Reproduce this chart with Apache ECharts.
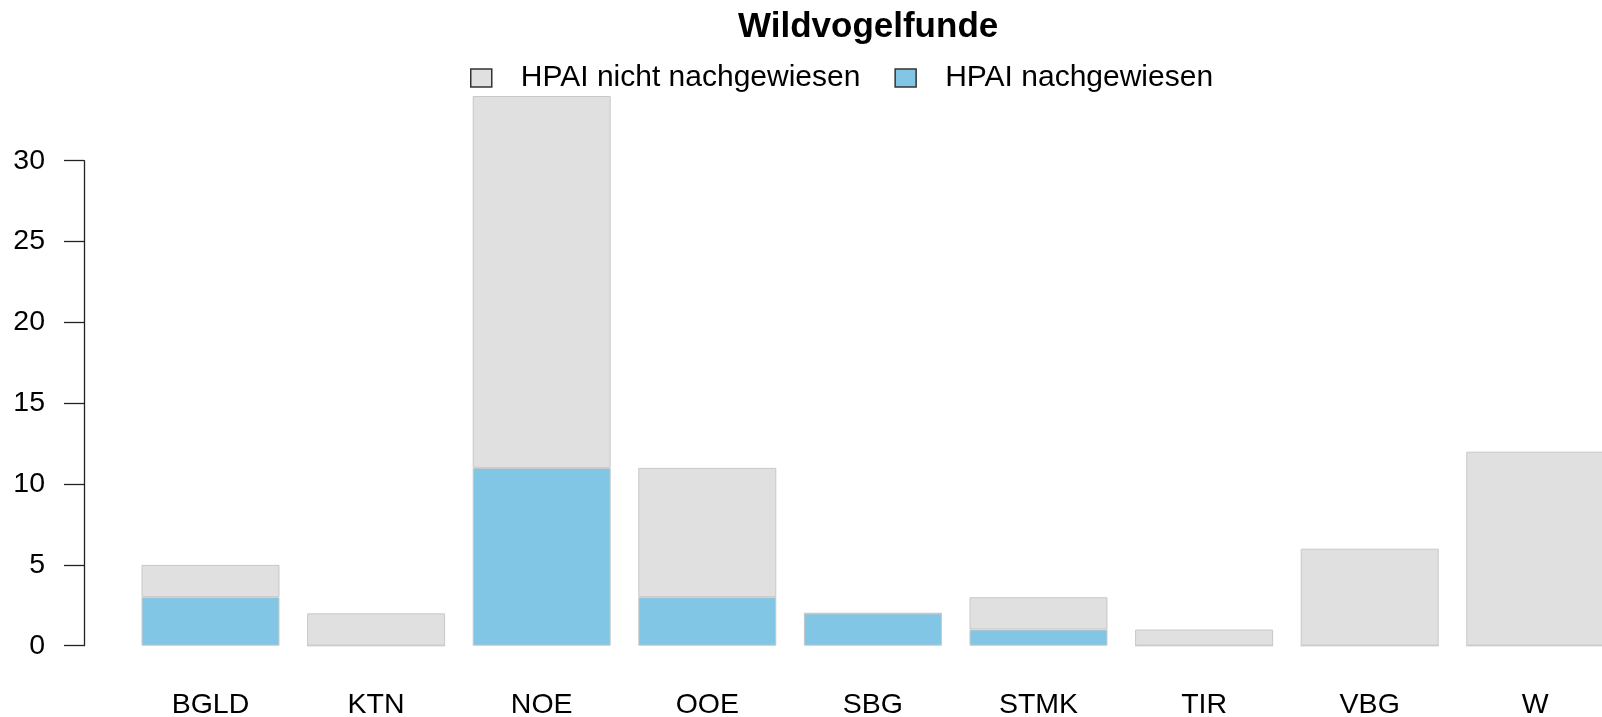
<!DOCTYPE html>
<html>
<head>
<meta charset="utf-8">
<title>Wildvogelfunde</title>
<script src="https://cdn.jsdelivr.net/npm/echarts@6/dist/echarts.min.js"></script>
<style>
  html, body { margin: 0; padding: 0; background: #fff; }
  #chart { width: 1602px; height: 717px; }
</style>
</head>
<body>
<div id="chart"></div>
<script>
// Bundesländer
const regions = ['BGLD', 'KTN', 'NOE', 'OOE', 'SBG', 'STMK', 'TIR', 'VBG', 'W'];
// Funde mit HPAI-Nachweis (unten im Stapel)
const positive = [3, 0, 11, 3, 2, 1, 0, 0, 0];
// Funde ohne Nachweis (oben)
const negative = [2, 2, 23, 8, 0, 2, 1, 6, 12];
const yTicks = [0, 5, 10, 15, 20, 25, 30];

const font = "'Liberation Sans', Arial, sans-serif";

const chart = echarts.init(document.getElementById('chart'));

chart.setOption({
  animation: false,
  title: {
    text: 'Wildvogelfunde',
    left: 738,
    top: 9.5,
    padding: 0,
    textStyle: { fontFamily: font, fontSize: 35, fontWeight: 'bold', color: '#000' }
  },
  legend: {
    data: ['HPAI nicht nachgewiesen', 'HPAI nachgewiesen'],
    left: 470,
    top: 63,
    padding: 0,
    icon: 'rect',
    itemWidth: 21,
    itemHeight: 18,
    itemGap: 34,
    itemStyle: { borderColor: '#333', borderWidth: 1.5 },
    textStyle: { fontFamily: font, fontSize: 30, color: '#000', padding: [0, 0, 0, 24] }
  },
  // the plot runs off the right edge, like the original
  grid: {
    left: 127.7,
    width: 1490.4,
    top: 160.7,
    bottom: 71.3,
    containLabel: false,
    outerBoundsMode: 'none'
  },
  xAxis: {
    type: 'category',
    data: regions,
    axisLine: { show: false },
    axisTick: { show: false },
    axisLabel: { fontFamily: font, fontSize: 28.5, color: '#000', margin: 45 }
  },
  yAxis: {
    type: 'value',
    min: yTicks[0],
    max: yTicks[yTicks.length - 1],
    interval: 5,
    offset: 43.7,
    splitLine: { show: false },
    axisLine: { show: true, lineStyle: { color: '#222', width: 1.3 } },
    axisTick: { show: true, length: 20, lineStyle: { color: '#222', width: 1.3 } },
    axisLabel: { fontFamily: font, fontSize: 28.5, color: '#000', margin: 39 }
  },
  series: [
    {
      name: 'HPAI nachgewiesen',
      type: 'bar',
      stack: 'total',
      clip: false,
      barCategoryGap: '16.67%',
      data: positive,
      itemStyle: { color: '#82C6E6', borderColor: '#C8C8C8', borderWidth: 1 }
    },
    {
      name: 'HPAI nicht nachgewiesen',
      type: 'bar',
      stack: 'total',
      clip: false,
      barCategoryGap: '16.67%',
      data: negative,
      itemStyle: { color: '#E0E0E0', borderColor: '#C8C8C8', borderWidth: 1 }
    }
  ]
});
</script>
</body>
</html>
